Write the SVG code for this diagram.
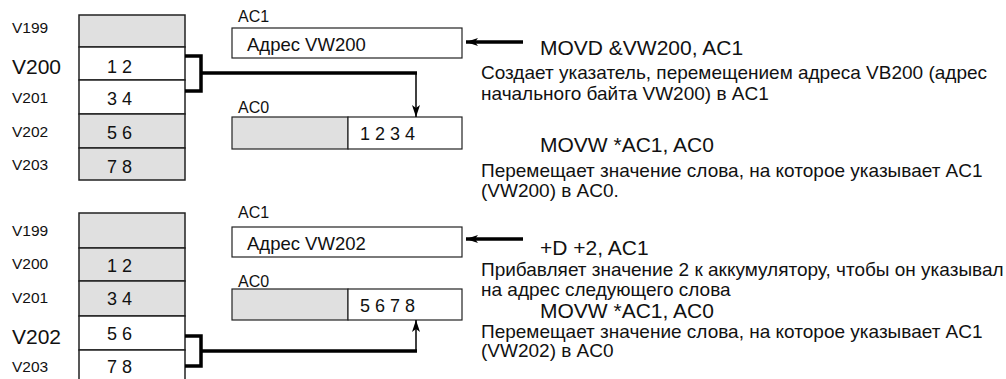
<svg xmlns="http://www.w3.org/2000/svg" width="1006" height="379" viewBox="0 0 1006 379">
<style>
text{font-family:"Liberation Sans",Arial,sans-serif;fill:#111}
.cell{stroke:#222;stroke-width:1.5}
.g{fill:#e0e0e0}
.w{fill:#fff}
.box{stroke:#222;stroke-width:1.2}
.lbl{font-size:15.5px}
.big{font-size:21px}
.val{font-size:18px}
.adr{font-size:18.5px}
.acl{font-size:16px}
.ins{font-size:21px}
.desc{font-size:19px}
.thick{fill:none;stroke:#000;stroke-width:3.5}
.thin{fill:none;stroke:#000;stroke-width:1.5}
</style>
<defs>
<marker id="ah" viewBox="0 0 12 8" refX="12" refY="4" markerWidth="12" markerHeight="8" markerUnits="userSpaceOnUse" orient="auto">
<path d="M0,0 L12,4 L0,8 L3,4 Z" fill="#000"/>
</marker>
</defs>

<g id="mem-top">
<rect class="cell g" x="79" y="15" width="106" height="32"/>
<rect class="cell w" x="79" y="47" width="106" height="33"/>
<rect class="cell w" x="79" y="80" width="106" height="34"/>
<rect class="cell g" x="79" y="114" width="106" height="34"/>
<rect class="cell g" x="79" y="148" width="106" height="32"/>
<text class="lbl" x="12" y="33">V199</text>
<text class="big" x="12" y="74">V200</text>
<text class="lbl" x="12" y="103">V201</text>
<text class="lbl" x="12" y="137">V202</text>
<text class="lbl" x="12" y="170">V203</text>
<text class="val" x="107" y="73">1 2</text>
<text class="val" x="107" y="105">3 4</text>
<text class="val" x="107" y="139">5 6</text>
<text class="val" x="107" y="173">7 8</text>
</g>

<g id="ac1-top">
<text class="acl" x="238" y="22">AC1</text>
<rect class="box w" x="232" y="28" width="230" height="30"/>
<text class="adr" x="247" y="51">Адрес VW200</text>
</g>

<g id="ac0-top">
<text class="acl" x="238" y="113">AC0</text>
<rect class="box g" x="232" y="117" width="116" height="32"/>
<rect class="box w" x="348" y="117" width="114" height="32"/>
<text class="val" x="360" y="140">1 2 3 4</text>
</g>

<g id="text-top">
<text class="ins" x="540" y="55">MOVD &amp;VW200, AC1</text>
<text class="desc" x="481" y="79">Создает указатель, перемещением адреса VB200 (адрес</text>
<text class="desc" x="481" y="100">начального байта VW200) в AC1</text>
<text class="ins" x="540" y="152">MOVW *AC1, AC0</text>
<text class="desc" x="481" y="177">Перемещает значение слова, на которое указывает AC1</text>
<text class="desc" x="481" y="197">(VW200) в AC0.</text>
</g>

<g id="mem-bottom">
<rect class="cell g" x="79" y="213" width="106" height="35"/>
<rect class="cell g" x="79" y="248" width="106" height="33"/>
<rect class="cell g" x="79" y="281" width="106" height="35"/>
<rect class="cell w" x="79" y="316" width="106" height="34"/>
<rect class="cell w" x="79" y="350" width="106" height="34"/>
<text class="lbl" x="12" y="236">V199</text>
<text class="lbl" x="12" y="269">V200</text>
<text class="lbl" x="12" y="303">V201</text>
<text class="big" x="12" y="344">V202</text>
<text class="lbl" x="12" y="372">V203</text>
<text class="val" x="107" y="272">1 2</text>
<text class="val" x="107" y="305">3 4</text>
<text class="val" x="107" y="340">5 6</text>
<text class="val" x="107" y="373">7 8</text>
</g>

<g id="ac1-bottom">
<text class="acl" x="238" y="218">AC1</text>
<rect class="box w" x="232" y="227" width="230" height="30"/>
<text class="adr" x="247" y="250">Адрес VW202</text>
</g>

<g id="ac0-bottom">
<text class="acl" x="238" y="287">AC0</text>
<rect class="box g" x="232" y="289" width="116" height="31"/>
<rect class="box w" x="348" y="289" width="114" height="31"/>
<text class="val" x="360" y="312">5 6 7 8</text>
</g>

<g id="text-bottom">
<text class="ins" x="540" y="255">+D +2, AC1</text>
<text class="desc" x="481" y="276">Прибавляет значение 2 к аккумулятору, чтобы он указывал</text>
<text class="desc" x="481" y="296">на адрес следующего слова</text>
<text class="ins" x="540" y="318">MOVW *AC1, AC0</text>
<text class="desc" x="481" y="338">Перемещает значение слова, на которое указывает AC1</text>
<text class="desc" x="481" y="357">(VW202) в AC0</text>
</g>

<g id="connectors">
<path class="thick" d="M185,56 H201 V91 H185"/>
<path class="thick" d="M201,73 H417"/>
<path class="thin" d="M416,73 V117" marker-end="url(#ah)"/>
<path class="thick" d="M523,42 H466" marker-end="url(#ah)"/>
<path class="thick" d="M185,336 H201 V366 H185"/>
<path class="thick" d="M201,351 H417"/>
<path class="thin" d="M416,351 V320" marker-end="url(#ah)"/>
<path class="thick" d="M523,239 H466" marker-end="url(#ah)"/>
</g>
</svg>
